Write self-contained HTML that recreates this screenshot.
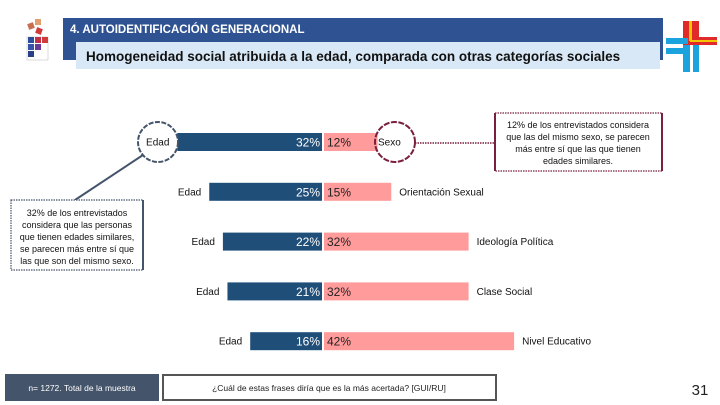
<!DOCTYPE html>
<html><head><meta charset="utf-8"><style>
body{margin:0;width:720px;height:405px;background:#fff;overflow:hidden;font-family:"Liberation Sans",sans-serif;}
svg{display:block}
</style></head><body>
<svg width="720" height="405" xmlns="http://www.w3.org/2000/svg" id="chart">
<g>
  <rect x="63" y="18" width="600" height="42" fill="#2f5392"/>
  <text x="70" y="33" font-size="11.5" fill="#fff" font-weight="bold">4. AUTOIDENTIFICACIÓN GENERACIONAL</text>
  <rect x="76" y="42" width="584" height="27" fill="#d9e8f6"/>
  <text x="86" y="61" font-size="13.5" font-weight="bold" fill="#111">Homogeneidad social atribuida a la edad, comparada con otras categorías sociales</text>
</g>
<g>
  <rect x="28" y="23" width="6" height="6" fill="#c8704d" transform="rotate(-20 31 26)"/>
  <rect x="35" y="19" width="6" height="6" fill="#e0a070"/>
  <rect x="36" y="28" width="6" height="6" fill="#d23a3a" transform="rotate(20 39 31)"/>
  <rect x="27" y="37" width="21" height="23" fill="none" stroke="#ccc" stroke-width="0.7"/>
  <rect x="28" y="37" width="6" height="6" fill="#2c4d9a"/><rect x="35" y="37" width="6" height="6" fill="#c0304a"/><rect x="42" y="37" width="6" height="6" fill="#d23a3a"/>
  <rect x="28" y="44" width="6" height="6" fill="#3553a8"/><rect x="35" y="44" width="6" height="6" fill="#6a3a9a"/>
  <rect x="28" y="51" width="6" height="6" fill="#2a3f88"/>
</g>
<g>
  <rect x="683" y="21" width="16" height="24" fill="#e02a2a"/>
  <rect x="683" y="37" width="34" height="8" fill="#e02a2a"/>
  <rect x="689" y="21" width="3" height="20" fill="#f5c400"/>
  <rect x="690" y="40" width="27" height="2" fill="#f5c400"/>
  <rect x="666" y="38" width="22" height="6" fill="#1ba3de"/>
  <rect x="666" y="48" width="22" height="6" fill="#1ba3de"/>
  <rect x="683" y="45" width="7" height="27" fill="#1ba3de"/>
  <rect x="693" y="45" width="6" height="27" fill="#1ba3de"/>
</g>
<g id="bars"></g>
<g>
  <line x1="143" y1="155" x2="75" y2="200" stroke="#44546a" stroke-width="2"/>
  <circle cx="158" cy="142" r="20" fill="#fff" stroke="#44546a" stroke-width="2" stroke-dasharray="5 1.5"/>
  <rect x="11" y="200" width="132" height="70" fill="#fff" stroke="#44546a" stroke-width="1.2" stroke-dasharray="1.5 1"/>
  <line x1="143" y1="200" x2="143" y2="270" stroke="#44546a" stroke-width="2"/>
  <g font-size="9" fill="#111" text-anchor="middle">
    <text x="77" y="216">32% de los entrevistados</text>
    <text x="77" y="228">considera que las personas</text>
    <text x="77" y="240">que tienen edades similares,</text>
    <text x="77" y="252">se parecen más entre sí que</text>
    <text x="77" y="264">las que son del mismo sexo.</text>
  </g>
  <line x1="415" y1="143" x2="495" y2="143" stroke="#7a1f3d" stroke-width="1.5" stroke-dasharray="1.5 1"/>
  <circle cx="395" cy="142" r="20" fill="none" stroke="#7a1f3d" stroke-width="2" stroke-dasharray="6 1.5"/>
  <rect x="495" y="113" width="167" height="58" fill="#fff" stroke="#7a1f3d" stroke-width="1.2" stroke-dasharray="1.5 1"/>
  <line x1="495" y1="113" x2="495" y2="171" stroke="#7a1f3d" stroke-width="2"/>
  <line x1="662" y1="113" x2="662" y2="171" stroke="#7a1f3d" stroke-width="2"/>
  <g font-size="9" fill="#111" text-anchor="middle">
    <text x="578" y="128">12% de los entrevistados considera</text>
    <text x="578" y="140">que las del mismo sexo, se parecen</text>
    <text x="578" y="152">más entre sí que las que tienen</text>
    <text x="578" y="164">edades similares.</text>
  </g>
</g>
<g>
  <rect x="5" y="374" width="154" height="27" fill="#44546a"/>
  <text x="82" y="391" font-size="8.5" fill="#fff" text-anchor="middle">n= 1272. Total de la muestra</text>
  <rect x="163" y="375" width="333" height="25" fill="#fff" stroke="#555" stroke-width="2"/>
  <text x="329" y="391" font-size="8.5" fill="#222" text-anchor="middle">¿Cuál de estas frases diría que es la más acertada? [GUI/RU]</text>
  <text x="700" y="395" font-size="15" fill="#222" text-anchor="middle">31</text>
</g>
</svg>
<script>
const categories = ["Sexo","Orientación Sexual","Ideología Política","Clase Social","Nivel Educativo"];
const edadValues = [32,25,22,21,16];
const otherValues = [12,15,32,32,42];
const centerX = 323, scale = 4.55, rowY0 = 142, rowStep = 49.8, barH = 18;
const g = document.getElementById('bars');
const NS = 'http://www.w3.org/2000/svg';
function xLeft(v){return centerX - v*scale;}
function xRight(v){return centerX + v*scale;}
function mk(tag, attrs){const e=document.createElementNS(NS,tag);for(const k in attrs)e.setAttribute(k,attrs[k]);return e;}
categories.forEach((c,i)=>{
  const y = rowY0 + i*rowStep;
  const l = mk('rect',{x:xLeft(edadValues[i]),y:y-barH/2,width:centerX-xLeft(edadValues[i])-1,height:barH,fill:'#1f4e79'});
  
  
  g.appendChild(l);
  const r = mk('rect',{x:centerX+1,y:y-barH/2,width:xRight(otherValues[i])-centerX-1,height:barH,fill:'#ff9b9b'});
  
  
  g.appendChild(r);
  const lv = mk('text',{x:centerX-3,y:y+4.5,'font-size':12,fill:'#fff','text-anchor':'end'});
  lv.textContent = edadValues[i]+'%';
  
  
  g.appendChild(lv);
  const rv = mk('text',{x:centerX+4,y:y+4.5,'font-size':12,fill:'#222'});
  rv.textContent = otherValues[i]+'%';
  
  
  g.appendChild(rv);
  if(i>0){
    const el = mk('text',{x:xLeft(edadValues[i])-8,y:y+3.5,'font-size':10,fill:'#111','text-anchor':'end'});
    el.textContent='Edad';
    
    
    g.appendChild(el);
  }
  const cl = mk('text',{x:i===0?378:xRight(otherValues[i])+8,y:y+3.5,'font-size':10,fill:'#111'});
  cl.textContent=c;
  
  
  g.appendChild(cl);
});
const e0 = mk('text',{x:xLeft(edadValues[0])-8,y:rowY0+3.5,'font-size':10,fill:'#111','text-anchor':'end'});
e0.textContent='Edad';


document.getElementById('chart').appendChild(e0);
</script>
</body></html>
